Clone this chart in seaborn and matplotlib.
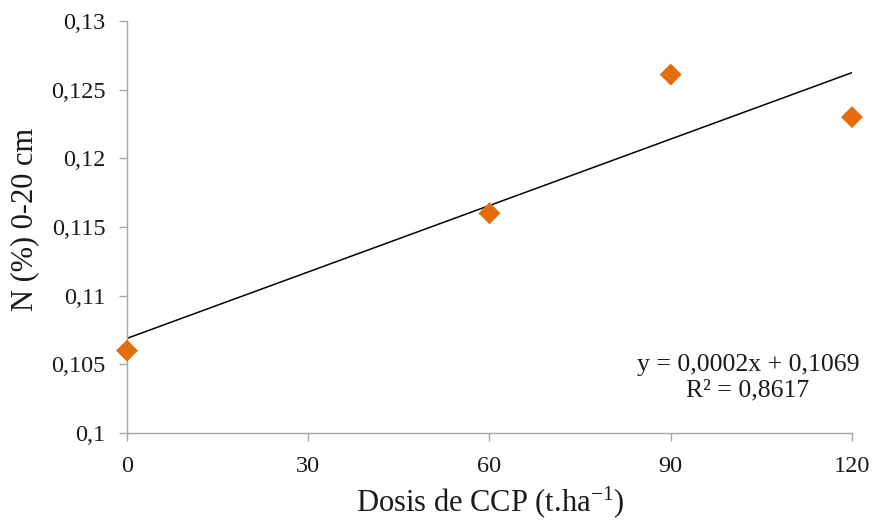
import matplotlib
matplotlib.use("Agg")
import matplotlib.pyplot as plt
from matplotlib.ticker import FuncFormatter, MultipleLocator
import seaborn as sns
import pandas as pd
import numpy as np

dose = [0, 60, 90, 120]
nitrogen = [0.106, 0.116, 0.1261, 0.123]
x_ticks = [0, 30, 60, 90, 120]
eq_text = "y = 0,0002x + 0,1069\nR² = 0,8617"

sns.set_theme(style="white")
plt.rcParams['font.family'] = ['Liberation Serif', 'DejaVu Serif']
plt.rcParams['mathtext.fontset'] = 'custom'
plt.rcParams['mathtext.rm'] = 'Liberation Serif'
plt.rcParams['mathtext.it'] = 'Liberation Serif:italic'

df = pd.DataFrame({"dose": dose, "N": nitrogen})

fig = plt.figure(figsize=(8.74, 5.2), dpi=100)
ax = fig.add_axes([0.1453, 0.1673, 0.9748 - 0.1453, 0.9596 - 0.1673])

sns.regplot(data=df, x="dose", y="N", scatter=False, ci=None, ax=ax,
            line_kws=dict(color="black", lw=1.1))
sns.scatterplot(data=df, x="dose", y="N", marker="D", s=125, color="#E46C0A",
                edgecolor="none", ax=ax, zorder=3, clip_on=False)

ax.set_xlim(0, 120)
ax.set_ylim(0.1, 0.13)
ax.set_xticks(x_ticks)
ax.yaxis.set_major_locator(MultipleLocator(0.005))

def fmt(v, pos):
    return ("%g" % round(v, 4)).replace(".", ",")

ax.yaxis.set_major_formatter(FuncFormatter(fmt))
ax.xaxis.set_major_formatter(FuncFormatter(lambda v, p: "%d" % v))

for side in ["top", "right"]:
    ax.spines[side].set_visible(False)
for side in ["left", "bottom"]:
    ax.spines[side].set_color("#A6A6A6")
    ax.spines[side].set_linewidth(1.0)

ax.tick_params(axis="both", which="major", direction="out", length=5.5, width=1.0,
               color="#A6A6A6", labelsize=17.5, labelcolor="#1a1a1a", pad=10,
               left=True, bottom=True)
ax.tick_params(axis="x", pad=11)

ax.set_xlabel("Dosis de CCP (t.ha$^{\\mathrm{-1}}$)", fontsize=22, color="#1a1a1a")
ax.set_ylabel("N (%) 0-20 cm", fontsize=22, color="#1a1a1a")
ax.xaxis.label.set_va("center")
ax.yaxis.label.set_va("center")
ax.xaxis.set_label_coords(490 / 874, 1 - 502 / 520, transform=fig.transFigure)
ax.yaxis.set_label_coords(25 / 874, 1 - 219 / 520, transform=fig.transFigure)

fig.text(748 / 874, 1 - 378 / 520, eq_text, ha="center", va="center",
         fontsize=18.5, color="#1a1a1a", linespacing=1.2)

fig.savefig("out.png", dpi=100, facecolor="white")
